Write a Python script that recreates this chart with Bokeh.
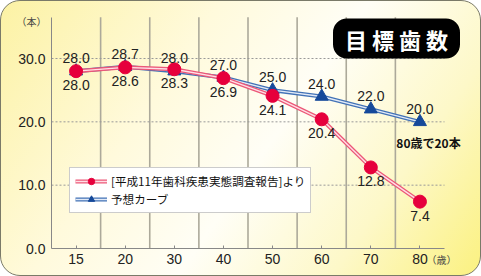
from bokeh.plotting import figure
from bokeh.models import (FixedTicker, Label, Legend, LegendItem, Range1d,
                          NumeralTickFormatter)
from bokeh.embed import file_html
from bokeh.resources import INLINE
from bokeh.core.properties import value

# ---- data ----
ages = ["15", "20", "30", "40", "50", "60", "70", "80"]
survey = [28.0, 28.6, 28.3, 26.9, 24.1, 20.4, 12.8, 7.4]
target = [28.0, 28.7, 28.0, 27.0, 25.0, 24.0, 22.0, 20.0]
survey_name = "[平成11年歯科疾患実態調査報告]より"
target_name = "予想カーブ"
y_ticks = [0, 10, 20, 30]
y_top = 36.5
title_text = "目 標 歯 数"
note_text = "80歳で20本"
y_unit = "（本）"
x_unit = "（歳）"

n = len(ages)
xs = [i + 0.5 for i in range(n)]
dividers = list(range(1, n))

LAT = "Liberation Sans"
JP = "Noto Sans CJK JP"

W, H = 481, 276
left_px, bottom_px = 50, 29          # where the axes sit on the canvas
slot_px = (443 - left_px) / n        # width of one category
unit_px = (247 - 57) / 30.0          # pixels per tooth

p = figure(width=W, height=H, output_backend="svg", toolbar_location=None,
           x_range=Range1d(-left_px / slot_px, (W - left_px) / slot_px),
           y_range=Range1d(-bottom_px / unit_px, (H - bottom_px) / unit_px),
           min_border=0)
p.border_fill_color = None
p.background_fill_color = None
p.outline_line_color = None
p.styles = {
    "background": "linear-gradient(125deg, #fcf2a4 0%, #fffadc 33%, #fffef6 55%, #fdf8c8 78%, #fbf180 100%)",
    "border": "1.5px solid #7a7a68",
    "border-radius": "20px",
    "box-sizing": "border-box",
}
p.xgrid.visible = False
p.ygrid.visible = False

# grid lines
p.segment(x0=dividers, y0=[0] * len(dividers), x1=dividers, y1=[y_top] * len(dividers),
          line_color="#aca99a", line_width=1.6)
hy = y_ticks[1:]
p.segment(x0=[0] * len(hy), y0=hy, x1=[n] * len(hy), y1=hy,
          line_color="#999999", line_width=1, line_dash="2 2")

# axes (fixed at the data origin)
p.xaxis.fixed_location = 0
p.xaxis.bounds = (0, n)
p.xaxis.ticker = FixedTicker(ticks=xs)
p.xaxis.major_label_overrides = {x: a for x, a in zip(xs, ages)}
p.xaxis.major_tick_in = 3
p.xaxis.major_tick_out = 0
p.xaxis.minor_tick_line_color = None
p.xaxis.axis_line_color = "#888888"
p.xaxis.major_tick_line_color = "#888888"
p.xaxis.major_label_standoff = 5
p.xaxis.major_label_text_font = LAT
p.xaxis.major_label_text_font_size = "14px"
p.xaxis.major_label_text_color = "#222222"

p.yaxis.fixed_location = 0
p.yaxis.bounds = (0, y_top)
p.yaxis.ticker = FixedTicker(ticks=y_ticks)
p.yaxis.formatter = NumeralTickFormatter(format="0.0")
p.yaxis.major_tick_in = 0
p.yaxis.major_tick_out = 0
p.yaxis.minor_tick_line_color = None
p.yaxis.axis_line_color = "#888888"
p.yaxis.major_label_standoff = 6
p.yaxis.major_label_text_font = LAT
p.yaxis.major_label_text_font_size = "14px"
p.yaxis.major_label_text_color = "#222222"

# series: target (behind)
b_o = p.line(xs, target, line_width=4, color="#4272b6")
b_i = p.line(xs, target, line_width=1.4, color="#e2eaf7")
b_s = p.scatter(xs, target, marker="triangle", size=13, color="#15499a")

# series: survey (front)
r_o = p.line(xs, survey, line_width=4, color="#ec5878")
r_i = p.line(xs, survey, line_width=1.4, color="#ffdfe6")
r_s = p.scatter(xs, survey, marker="circle", size=13, color="#e6003c")

# value labels
p.text(xs, target, text=[f"{v:.1f}" for v in target], y_offset=-13,
       text_align="center", text_baseline="middle", text_font=value(LAT),
       text_font_size="14px", text_color="#222222")
p.text(xs, survey, text=[f"{v:.1f}" for v in survey], y_offset=14,
       text_align="center", text_baseline="middle", text_font=value(LAT),
       text_font_size="14px", text_color="#222222")

legend = Legend(items=[LegendItem(label=survey_name, renderers=[r_o, r_i, r_s]),
                       LegendItem(label=target_name, renderers=[b_o, b_i, b_s])],
                location=(68, 64))
legend.label_text_font = JP
legend.label_text_font_size = "11.6px"
legend.label_text_color = "#111111"
legend.border_line_color = "#999999"
legend.background_fill_color = "white"
legend.background_fill_alpha = 1
legend.padding = 5
legend.spacing = 2
legend.glyph_width = 32
legend.glyph_height = 16
legend.label_height = 16
legend.label_standoff = 4
legend.margin = 0
p.add_layout(legend)

p.add_layout(Label(x=395, y=239, x_units="screen", y_units="screen", text=title_text,
                   text_color="white", text_font_size="22px", text_font_style="bold",
                   text_font=JP, text_align="center", text_baseline="middle",
                   background_fill_color="black", border_radius=14, padding=(12, 4)))
p.add_layout(Label(x=427, y=135, x_units="screen", y_units="screen", text=note_text,
                   text_color="#111111", text_font_size="12px", text_font_style="bold",
                   text_font=JP, text_align="center", text_baseline="middle"))
p.add_layout(Label(x=30, y=256, x_units="screen", y_units="screen", text=y_unit,
                   text_color="#444444", text_font_size="10px",
                   text_font=JP, text_align="center", text_baseline="middle"))
p.add_layout(Label(x=440, y=18, x_units="screen", y_units="screen", text=x_unit,
                   text_color="#444444", text_font_size="10px",
                   text_font=JP, text_align="center", text_baseline="middle"))

open("out.html", "w").write(file_html(p, INLINE))
